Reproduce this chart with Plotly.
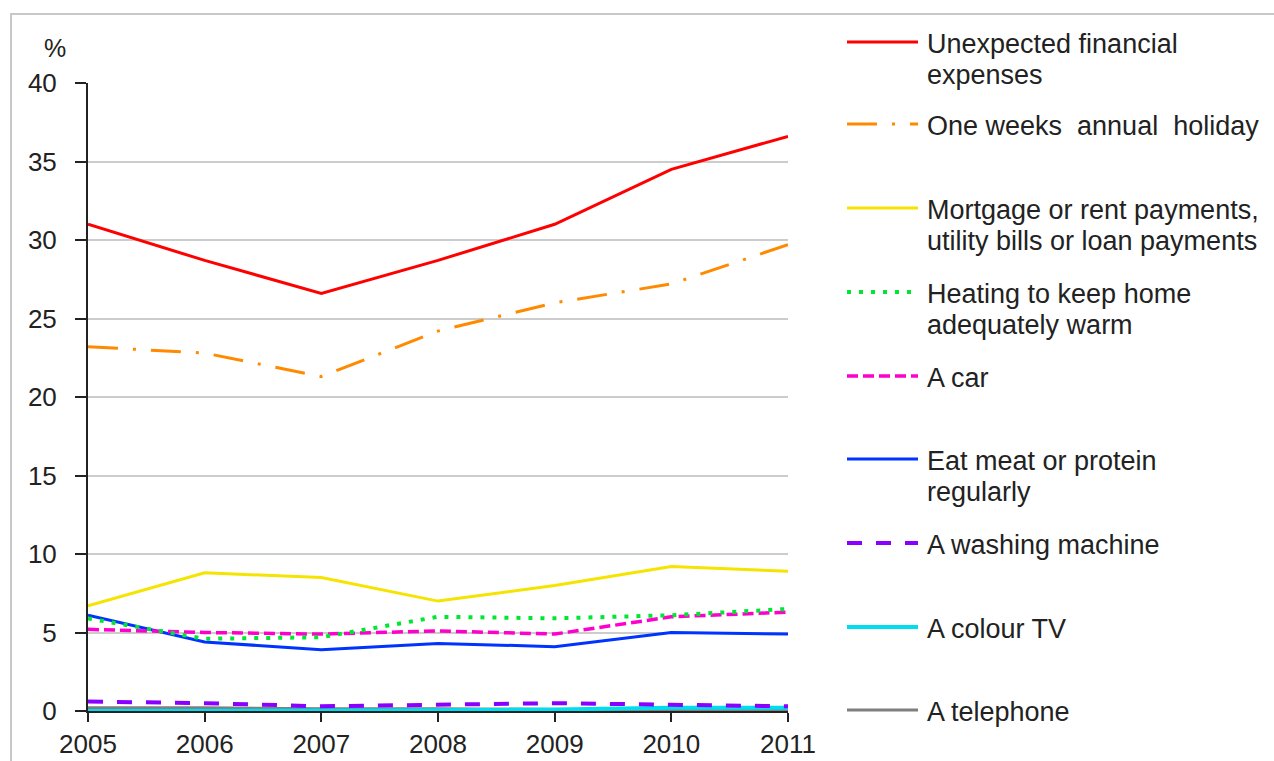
import plotly.graph_objects as go

# Share of households unable to afford each item, 2005-2011 (%)
years = [2005, 2006, 2007, 2008, 2009, 2010, 2011]

unexpected_expenses = [31.0, 28.7, 26.6, 28.7, 31.0, 34.5, 36.6]
annual_holiday = [23.2, 22.8, 21.3, 24.2, 26.0, 27.2, 29.7]
mortgage_rent_bills = [6.7, 8.8, 8.5, 7.0, 8.0, 9.2, 8.9]
home_heating = [5.9, 4.6, 4.7, 6.0, 5.9, 6.1, 6.5]
car = [5.2, 5.0, 4.9, 5.1, 4.9, 6.0, 6.3]
meat_protein = [6.1, 4.4, 3.9, 4.3, 4.1, 5.0, 4.9]
washing_machine = [0.6, 0.5, 0.3, 0.4, 0.5, 0.4, 0.3]
colour_tv = [0.0, 0.0, 0.0, 0.05, 0.1, 0.2, 0.2]
telephone = [0.2, 0.2, 0.15, 0.15, 0.1, 0.1, 0.1]

series_names = [
    "Unexpected financial<br>expenses",
    "One weeks  annual  holiday",
    "Mortgage or rent payments,<br>utility bills or loan payments",
    "Heating to keep home<br>adequately warm",
    "A car",
    "Eat meat or protein<br>regularly",
    "A washing machine",
    "A colour TV",
    "A telephone",
]
series_values = [
    unexpected_expenses, annual_holiday, mortgage_rent_bills, home_heating,
    car, meat_protein, washing_machine, colour_tv, telephone,
]
styles = [
    dict(color="#FF0000", width=3, dash="solid"),
    dict(color="#FF8A00", width=3, dash="30px,15px,3px,15px"),
    dict(color="#F5E400", width=3, dash="solid"),
    dict(color="#00E633", width=4, dash="4px,8px"),
    dict(color="#FF00CC", width=3.5, dash="11px,5px"),
    dict(color="#0033FF", width=3, dash="solid"),
    dict(color="#8A00FF", width=4, dash="15px,14px"),
    dict(color="#00DDEE", width=4, dash="solid"),
    dict(color="#7F7F7F", width=3, dash="solid"),
]

FONT = "Liberation Sans, Arial, sans-serif"
TEXT = "#222222"
W, H = 1274, 761
L, R, T, B = 88, 486, 83, 50
PW, PH = W - L - R, H - T - B


def px_x(x):
    return (x - L) / PW


def px_y(y):
    return (H - B - y) / PH


fig = go.Figure()

# draw low-value series first so the larger ones sit on top
for name, vals, st in reversed(list(zip(series_names, series_values, styles))):
    fig.add_trace(go.Scatter(
        x=years, y=vals, mode="lines", name=name.replace("<br>", " "),
        line=st, showlegend=False, hoverinfo="x+y+name",
    ))

shapes = []
annotations = []

# outer frame
shapes.append(dict(type="rect", xref="paper", yref="paper",
                   x0=px_x(11), x1=px_x(W + 20), y0=px_y(14), y1=px_y(H + 20),
                   line=dict(color="#C8C8C8", width=2), layer="below"))

# legend entries drawn as line samples with labels
legend_rows = [42, 124, 208, 292, 376, 459, 543, 627, 710]
LINE_STEP = 31
for name, st, ry in zip(series_names, styles, legend_rows):
    shapes.append(dict(type="line", xref="paper", yref="paper",
                       x0=px_x(847), x1=px_x(918), y0=px_y(ry), y1=px_y(ry),
                       line=dict(color=st["color"], width=st["width"], dash=st["dash"])))
    for i, part in enumerate(name.split("<br>")):
        annotations.append(dict(xref="paper", yref="paper", x=px_x(925),
                                y=px_y(ry + 2 + i * LINE_STEP),
                                xanchor="left", yanchor="middle", align="left",
                                text=part, showarrow=False,
                                font=dict(family=FONT, size=27, color=TEXT)))

# unit label above the value axis
annotations.append(dict(xref="paper", yref="paper", x=px_x(55), y=px_y(48),
                        xanchor="center", yanchor="middle", text="%", showarrow=False,
                        font=dict(family=FONT, size=25, color=TEXT)))

fig.update_layout(
    width=W, height=H,
    margin=dict(l=L, r=R, t=T, b=B, autoexpand=False),
    paper_bgcolor="white", plot_bgcolor="white",
    font=dict(family=FONT, size=26, color=TEXT),
    shapes=shapes, annotations=annotations,
    xaxis=dict(
        range=[2005, 2011], tickmode="array", tickvals=years,
        ticktext=[str(y) for y in years],
        showgrid=False, zeroline=False, showline=True, linecolor=TEXT, linewidth=2,
        ticks="outside", ticklen=9, tickwidth=2, tickcolor=TEXT,
        tickfont=dict(family=FONT, size=26, color=TEXT),
    ),
    yaxis=dict(
        range=[0, 40], tickmode="linear", tick0=0, dtick=5,
        showgrid=True, gridcolor="#CCCCCC", gridwidth=2, zeroline=False,
        showline=True, linecolor=TEXT, linewidth=2,
        ticks="outside", ticklen=11, tickwidth=2, tickcolor=TEXT,
        ticklabelstandoff=13,
        tickfont=dict(family=FONT, size=26, color=TEXT),
    ),
)

fig.write_html("out.html")
